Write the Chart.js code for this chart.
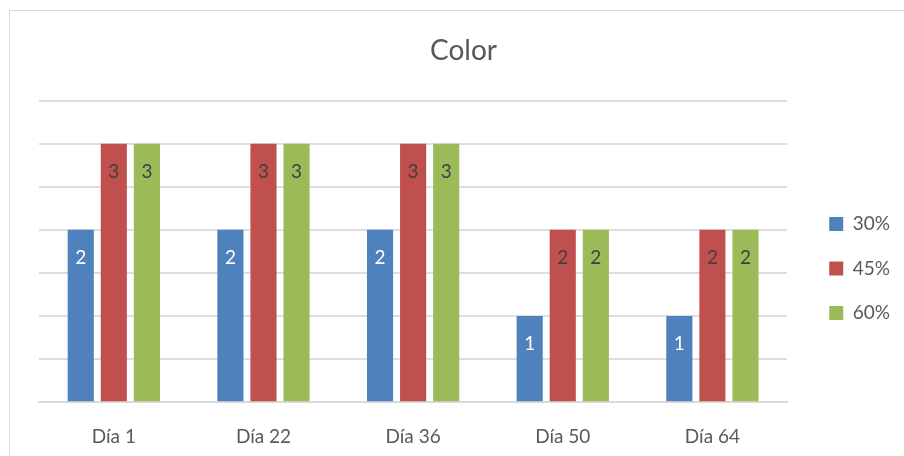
<!DOCTYPE html>
<html>
<head>
<meta charset="utf-8">
<script src="https://cdn.jsdelivr.net/npm/chart.js@4/dist/chart.umd.min.js"></script>
<style>
  html, body { margin: 0; padding: 0; background: #fff; overflow: hidden; }
  #frame {
    position: absolute; left: 9px; top: 10px;
    width: 896px; height: 460px;
    border: 1px solid #d9d9d9; background: #fff;
  }
  #chart { display: block; }
</style>
</head>
<body>
<div id="frame"><canvas id="chart" width="896" height="460"></canvas></div>
<script>
// Categories and series
const days = ['Día 1', 'Día 22', 'Día 36', 'Día 50', 'Día 64'];
const seriesNames = ['30%', '45%', '60%'];
const values30 = [2, 2, 2, 1, 1];
const values45 = [3, 3, 3, 2, 2];
const values60 = [3, 3, 3, 2, 2];

const barColors = ['#4f81bd', '#c0504d', '#9bbb59'];
const labelColors = ['#ffffff', '#404040', '#404040'];
const FONT = 'Lato, "Open Sans", sans-serif';

// Writes each bar's value just inside its top edge
const valueLabels = {
  id: 'valueLabels',
  afterDatasetsDraw(chart) {
    const ctx = chart.ctx;
    ctx.save();
    ctx.font = '19px ' + FONT;
    ctx.textAlign = 'center';
    ctx.textBaseline = 'middle';
    chart.data.datasets.forEach((ds, i) => {
      const meta = chart.getDatasetMeta(i);
      ctx.fillStyle = labelColors[i];
      meta.data.forEach((bar, j) => {
        ctx.fillText(String(ds.data[j]), bar.x, bar.y + 28);
      });
    });
    ctx.restore();
  }
};

const allSeries = [values30, values45, values60];

new Chart(document.getElementById('chart'), {
  type: 'bar',
  data: {
    labels: days,
    datasets: allSeries.map((vals, i) => ({
      label: seriesNames[i],
      data: vals,
      backgroundColor: barColors[i],
      borderWidth: 0,
      categoryPercentage: 0.663,
      barPercentage: 0.79
    }))
  },
  options: {
    responsive: false,
    animation: false,
    layout: { padding: { left: 17, right: 6, top: 0, bottom: 0 } },
    plugins: {
      title: {
        display: true,
        text: 'Color',
        color: '#595959',
        font: { family: FONT, size: 28, weight: 'normal' },
        padding: { top: 23, bottom: 33 }
      },
      legend: {
        position: 'right',
        title: { display: true, text: '', font: { size: 10 }, padding: { top: 43, bottom: 0 } },
        labels: {
          color: '#595959',
          font: { family: FONT, size: 19 },
          boxWidth: 14,
          boxHeight: 14,
          padding: 25.5
        }
      },
      tooltip: { enabled: false }
    },
    scales: {
      x: {
        grid: { display: false, drawTicks: false },
        border: { display: true, color: '#d9d9d9', width: 2 },
        ticks: {
          color: '#595959',
          font: { family: FONT, size: 19 },
          padding: 23
        }
      },
      y: {
        position: 'right',
        min: 0,
        max: 3.5,
        ticks: { display: false, stepSize: 0.5 },
        grid: { color: '#dedede', lineWidth: 2, drawTicks: false },
        border: { display: false },
        afterFit(scale) { scale.width = 16.5; }
      },
      // empty left margin so the plot starts where the title centring expects
      gutter: {
        type: 'linear',
        position: 'left',
        ticks: { display: false },
        grid: { display: false, drawTicks: false },
        border: { display: false },
        afterFit(scale) { scale.width = 12; }
      }
    }
  },
  plugins: [valueLabels]
});
</script>
</body>
</html>
